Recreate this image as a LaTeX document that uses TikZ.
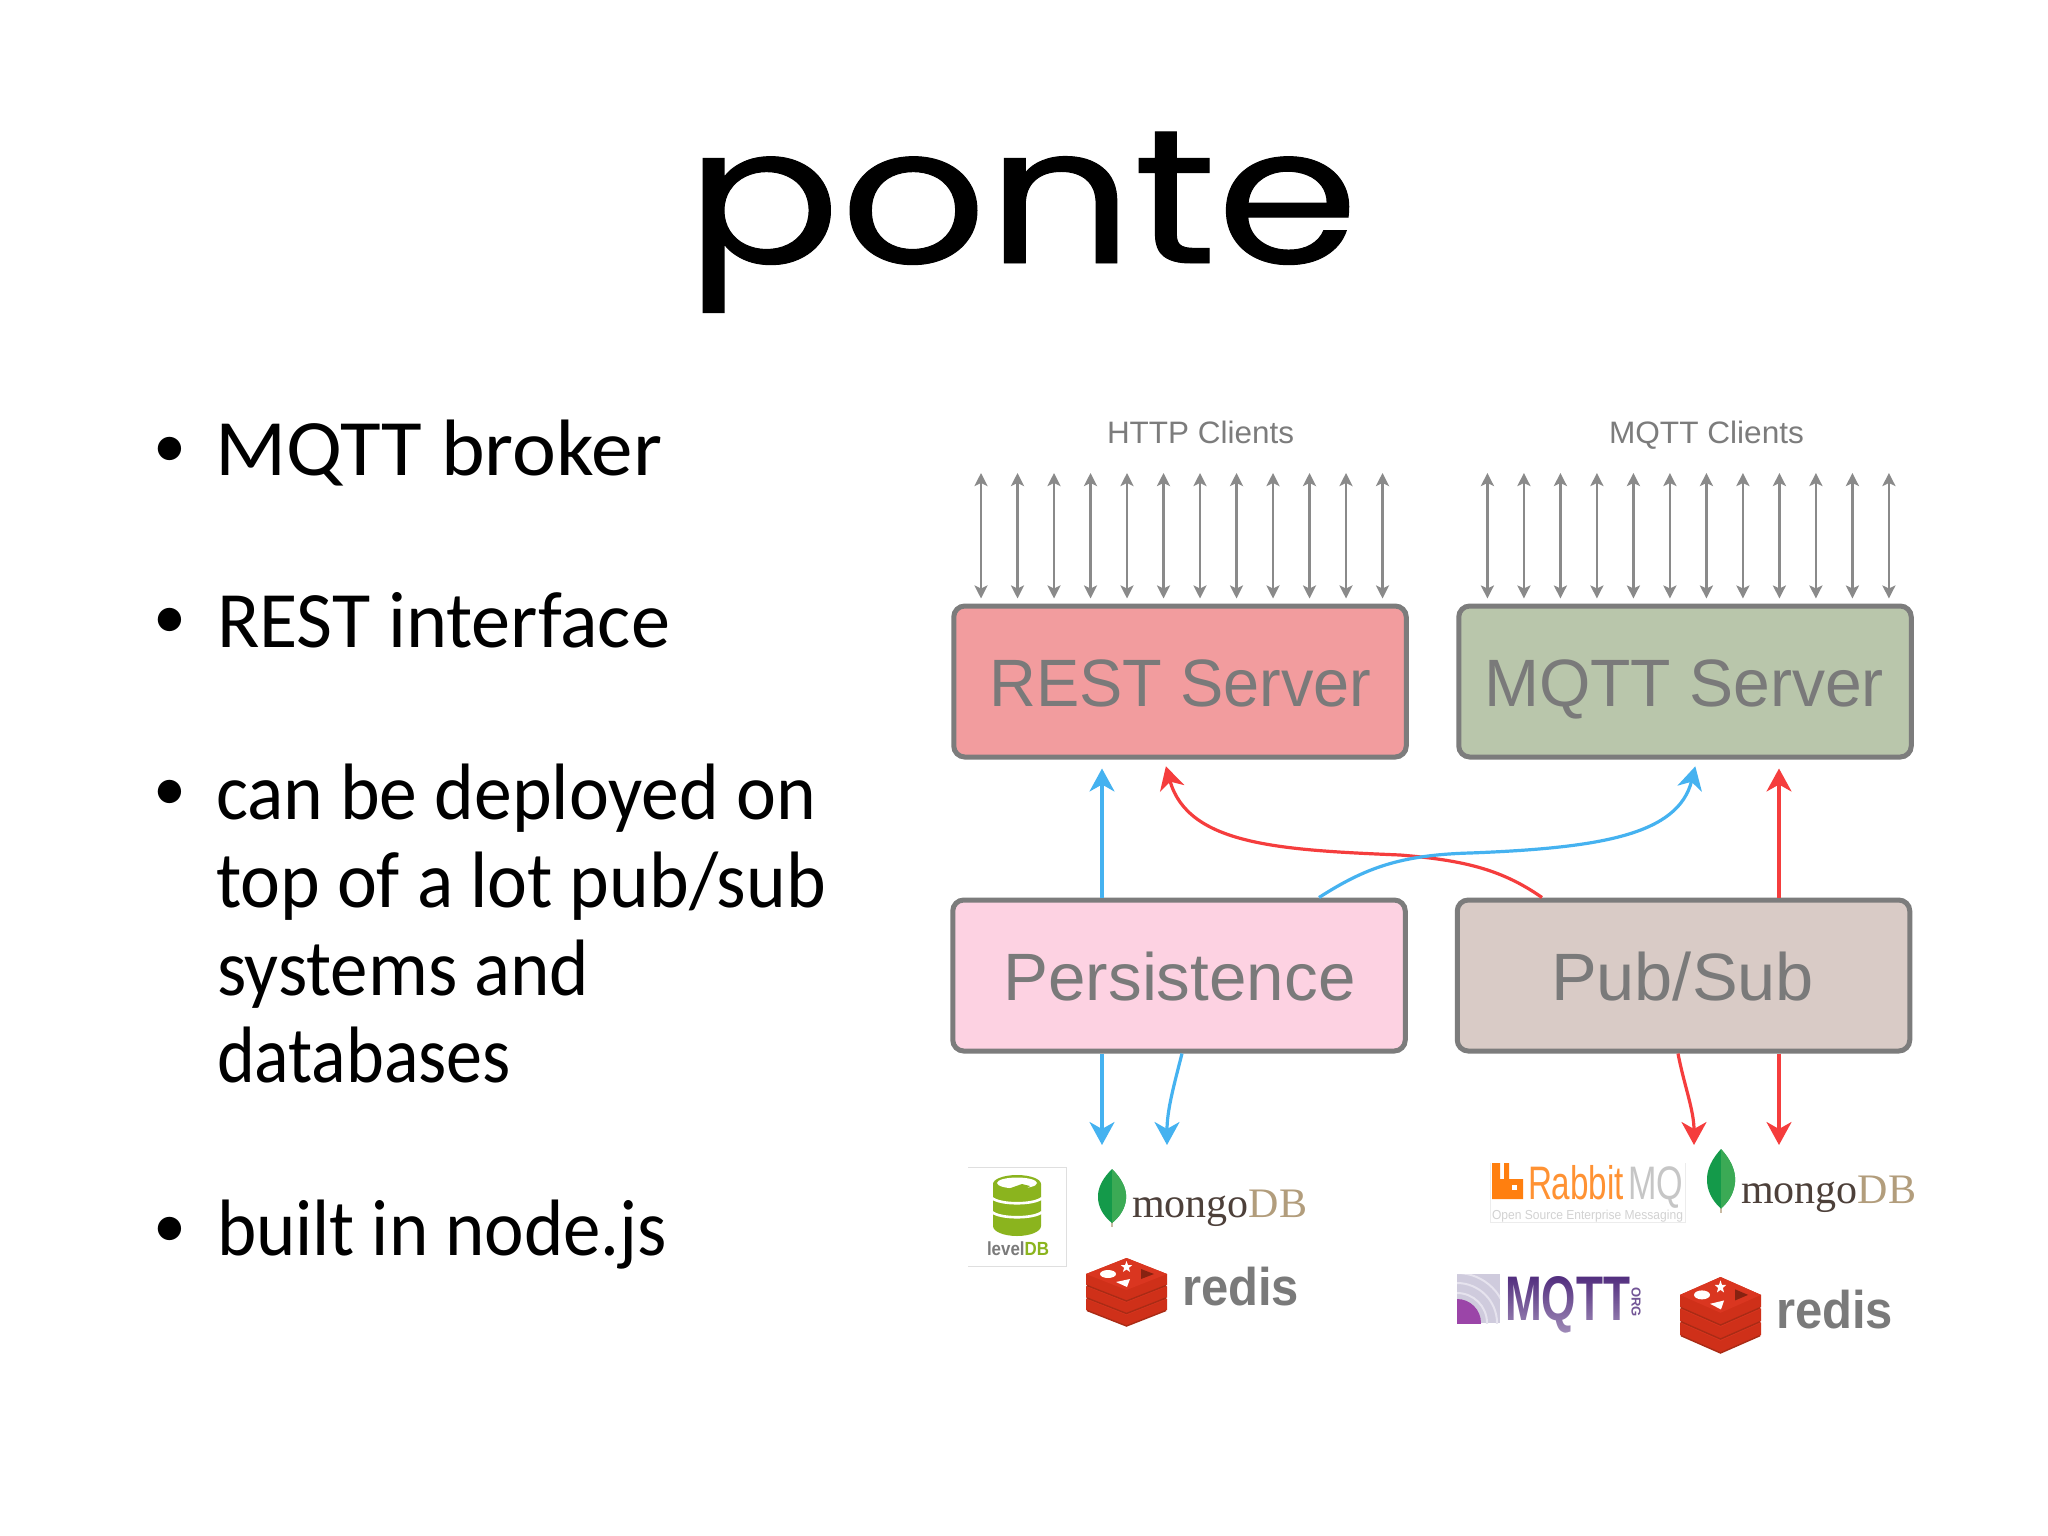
\documentclass[tikz,border=0pt]{standalone}
\usepackage{fontspec}
\usepackage{graphicx}
\setmainfont{Carlito}
\newfontfamily\helv{Liberation Sans}
\newfontfamily\tms{Liberation Serif}
\newfontfamily\pop[FakeBold=0.5]{Poppins}
\usetikzlibrary{arrows.meta,fadings}
\definecolor{boxline}{HTML}{7C7C7C}
\definecolor{boxtext}{HTML}{7A7A7A}
\definecolor{restfill}{HTML}{F29C9E}
\definecolor{mqttfill}{HTML}{B9C6AB}
\definecolor{persfill}{HTML}{FDD2E2}
\definecolor{pubfill}{HTML}{D9CBC6}
\definecolor{ablue}{HTML}{45B2F0}
\definecolor{ared}{HTML}{F53D3D}
\definecolor{agray}{HTML}{8A8A8A}
\definecolor{redisa}{HTML}{DA3620}
\definecolor{redisb}{HTML}{A92B15}
\definecolor{redisc}{HTML}{CF3019}
\definecolor{leafd}{HTML}{149A4A}
\definecolor{leafl}{HTML}{3BAA55}
\definecolor{lvl}{HTML}{8BB41E}
\definecolor{mongoa}{HTML}{4D403A}
\definecolor{mongob}{HTML}{B29D7C}
\definecolor{rabbit}{HTML}{FF7F0F}
\definecolor{mqpurple}{HTML}{4F2A7C}
\definecolor{mqicon}{HTML}{CFCBDD}
\definecolor{mqarc}{HTML}{E6E3EE}
\definecolor{mqdot}{HTML}{9B45A8}
\newcommand{\fitw}[2]{\resizebox{#1pt}{\height}{#2}}
\newcommand{\fs}[1]{\fontsize{#1}{#1}\selectfont}
\newcommand{\rediscube}[3]{%
\begin{scope}[shift={(#1,#2)},yscale=#3/68]
 \foreach \d in {25,12.5,0}{
  \fill[redisc] (0,16+\d) -- (40.5,0+\d) -- (81,16+\d) -- (81,27+\d) -- (40.5,43+\d) -- (0,27+\d) -- cycle;
  \draw[redisb,line width=1.4pt] (1,27.5+\d) -- (40.5,43+\d) -- (80,27.5+\d);
  \fill[redisa] (0,16+\d) -- (40.5,0+\d) -- (81,16+\d) -- (40.5,32+\d) -- cycle;
 }
 \fill[white] (22,16) ellipse [x radius=8pt,y radius=4pt];
 \fill[white,shift={(40.5,9)}] (0,-6) -- (1.47,-2.02) -- (5.71,-1.85) -- (2.38,.77) -- (3.53,4.85) -- (0,2.5) -- (-3.53,4.85) -- (-2.38,.77) -- (-5.71,-1.85) -- (-1.47,-2.02) -- cycle;
 \fill[white] (30,24) -- (44,21) -- (41,29) -- cycle;
 \fill[redisb!80!black] (55,11) -- (68,16) -- (55,21) -- cycle;
\end{scope}}
\newcommand{\mleaf}[3]{%
\begin{scope}[shift={(#1,#2)},yscale=#3/58]
 \draw[mongob!70!white,line width=1.5pt] (0,50) -- (0,58);
 \fill[leafd] (0,0) .. controls (8,8) and (15,18) .. (14,30) .. controls (13,42) and (5,50) .. (0,54) .. controls (-5,50) and (-13,42) .. (-14,30) .. controls (-15,18) and (-8,8) .. (0,0) -- cycle;
 \fill[leafl] (0,0) .. controls (8,8) and (15,18) .. (14,30) .. controls (13,42) and (5,50) .. (0,54) -- cycle;
\end{scope}}
\tikzset{
 x=1pt,y=-1pt,
 txt/.style={inner sep=0pt,outer sep=0pt,anchor=base west},
 body/.style={txt,font=\fs{80},text=black},
 bul/.style={inner sep=0pt,outer sep=0pt,anchor=center,font=\fs{66},text=black},
 srv/.style={rectangle,rounded corners=11pt,draw=boxline,line width=5pt,minimum width=452.5pt,minimum height=151pt,inner sep=0pt},
 srvtxt/.style={txt,font=\helv\fs{67},text=boxtext},
 clnt/.style={txt,font=\helv\fs{31},text=agray!90!black},
 dbl/.style={agray,line width=2.8pt,{Stealth[length=13pt,width=13pt,inset=3pt]}-{Stealth[length=13pt,width=13pt,inset=3pt]},shorten >=5pt},
 bluea/.style={ablue,line width=3.2pt,-{Stealth[length=23pt,width=25pt,inset=7pt]}},
 reda/.style={ared,line width=3.2pt,-{Stealth[length=23pt,width=25pt,inset=7pt]}},
}
\begin{document}
\begin{tikzpicture}
\useasboundingbox (0,0) rectangle (2048,1536);
\fill[white] (0,0) rectangle (2048,1536);
% title
\node[txt,font=\pop\fs{191}] (title) at (685.5,263) {\fitw{673}{ponte}};
% bullets
\node[bul] (b1) at (170,452) {•};
\node[bul] (b2) at (170,623) {•};
\node[bul] (b3) at (170,795) {•};
\node[bul] (b4) at (170,1232) {•};
\node[body] (t1) at (215,475.5) {\fitw{447}{MQTT broker}};
\node[body] (t2) at (217,647.5) {\fitw{453}{REST interface}};
\node[body] (t3) at (216,819.5) {\fitw{600}{can be deployed on}};
\node[body] (t4) at (216,907.5) {\fitw{610}{top of a lot pub/sub}};
\node[body] (t5) at (217,995.5) {\fitw{372}{systems and}};
\node[body] (t6) at (217,1082.5) {\fitw{294}{databases}};
\node[body] (t7) at (217,1255.5) {\fitw{450}{built in node.js}};
% client labels
\node[clnt] (hc) at (1107,443) {\fitw{187}{HTTP Clients}};
\node[clnt] (mc) at (1609,443) {\fitw{195}{MQTT Clients}};
% boxes
\node[srv,fill=restfill] (rest) at (1180,681.5) {};
\node[srv,fill=mqttfill] (mqtt) at (1685,681.5) {};
\node[srv,fill=persfill] (pers) at (1179,975.5) {};
\node[srv,fill=pubfill] (pub) at (1683.5,975.5) {};
\node[srvtxt] (restt) at (989.5,706) {\fitw{382}{REST Server}};
\node[srvtxt] (mqttt) at (1484,706) {\fitw{400}{MQTT Server}};
\node[srvtxt] (perst) at (1003.5,1000) {\fitw{352}{Persistence}};
\node[srvtxt] (pubt) at (1551,1000) {\fitw{263}{Pub/Sub}};
% client arrows
\foreach \i in {0,...,11}{
 \coordinate (ha\i) at ({981+\i*36.5},473);
 \coordinate (ma\i) at ({1487.4+\i*36.5},473);
 \draw[dbl] (ha\i) -- (ha\i |- rest.north);
 \draw[dbl] (ma\i) -- (ma\i |- mqtt.north);
}
% columns
\coordinate (xa) at (1102,0);
\coordinate (xb) at (1164,0);
\coordinate (xc) at (1697,0);
\coordinate (xd) at (1779,0);
\coordinate (xe) at (1319,0);
\coordinate (xf) at (1542,0);
\coordinate (xg) at (1182,0);
\coordinate (xh) at (1678,0);
% middle arrows
\draw[bluea,shorten >=9pt] (pers.north -| xa) -- (rest.south -| xa);
\draw[reda,shorten >=9pt] (pub.north -| xd) -- (mqtt.south -| xd);
\draw[reda,shorten >=7pt] (pub.north -| xf) .. controls (1500,868) and (1460,860) .. (1400,855) .. controls (1280,850) and (1188,845) .. (rest.south -| xb);
\draw[bluea,shorten >=7pt] (pers.north -| xe) .. controls (1365,868) and (1400,855) .. (1470,853) .. controls (1600,848) and (1678,835) .. (mqtt.south -| xc);
% lower arrows
\coordinate (ba) at (1102,1145);
\coordinate (bb) at (1167,1145);
\coordinate (bc) at (1694,1145);
\coordinate (bd) at (1779,1145);
\draw[bluea] (pers.south -| xa) -- (ba);
\draw[bluea] (pers.south -| xg) .. controls (1174,1085) and (1167,1110) .. (bb);
\draw[reda] (pub.south -| xh) .. controls (1684,1085) and (1694,1110) .. (bc);
\draw[reda] (pub.south -| xd) -- (bd);
% levelDB
\draw[gray!25,line width=1pt] (968,1167) -- (1066,1167) -- (1066,1266) -- (968,1266);
\fill[lvl] (993,1184) arc[start angle=180,end angle=0,x radius=24pt,y radius=9pt] -- (1041,1226) arc[start angle=0,end angle=-180,x radius=24pt,y radius=10pt] -- cycle;
\fill[white] (1017,1183) ellipse [x radius=20pt,y radius=5.5pt];
\fill[lvl] (1005,1190) -- (1022,1184) -- (1030,1186) -- (1022,1192) -- cycle;
\draw[white,line width=2.6pt] (992,1198) .. controls (1000,1205) and (1034,1205) .. (1042,1198);
\draw[white,line width=2.6pt] (992,1212) .. controls (1000,1219) and (1034,1219) .. (1042,1212);
\node[txt,font=\helv\bfseries\fs{19},text=boxtext] (lvldb) at (987,1255) {\fitw{62}{level{\color{lvl}DB}}};
% left mongoDB
\mleaf{1112}{1169}{58}
\node[txt,font=\tms\fs{42},text=mongoa] (mdb1) at (1132,1217) {\fitw{175}{mongo{\color{mongob}DB}}};
% left redis
\rediscube{1086}{1258}{68}
\node[txt,font=\helv\bfseries\fs{53},text=boxtext] (rd1) at (1182,1305) {\fitw{117}{redis}};
% RabbitMQ
\draw[gray!15,line width=1pt] (1490,1163) -- (1490,1222) -- (1685,1222) -- (1685,1163);
\fill[rabbit] (1492,1199) -- (1492,1163) -- (1500,1163) -- (1500,1179) -- (1504,1179) -- (1504,1163) -- (1509,1163) -- (1509,1179) -- (1523,1179) -- (1523,1199) -- cycle;
\fill[white] (1512,1185) rectangle (1517,1190);
\node[txt,font=\helv\fs{47},text=rabbit!85!white] (rmq1) at (1528,1199) {\fitw{96}{Rabbit}};
\node[txt,font=\helv\fs{47},text=gray!45] (rmq2) at (1628,1199) {\fitw{55}{MQ}};
\node[txt,font=\helv\fs{13},text=gray!35] (rmq3) at (1492,1219) {\fitw{191}{Open Source Enterprise Messaging}};
% right mongoDB
\mleaf{1721}{1149}{64}
\node[txt,font=\tms\fs{42},text=mongoa] (mdb2) at (1741,1203) {\fitw{175}{mongo{\color{mongob}DB}}};
% right redis
\rediscube{1680}{1277}{76}
\node[txt,font=\helv\bfseries\fs{53},text=boxtext] (rd2) at (1776,1328) {\fitw{117}{redis}};
% MQTT.org
\begin{scope}
 \clip (1457,1274) rectangle (1500,1323);
 \fill[mqicon] (1457,1274) rectangle (1500,1323);
 \draw[mqarc,line width=2pt] (1457,1323) circle[radius=30pt];
 \draw[mqarc,line width=2pt] (1457,1323) circle[radius=40pt];
 \draw[mqarc,line width=2pt] (1457,1323) circle[radius=50pt];
 \fill[mqdot] (1457,1323) circle[radius=24pt];
\end{scope}
\node[txt,font=\helv\bfseries\fs{63},text=mqpurple] (mq) at (1505,1320) {\fitw{125}{MQTT}};
\fill[white,path fading=north,opacity=.45] (1503,1274) rectangle (1632,1332);
\node[inner sep=0pt,font=\helv\bfseries\fs{13},text=mqpurple!80!white,rotate=-90,anchor=center] (mqorg) at (1636,1302) {ORG};
\end{tikzpicture}
\end{document}
